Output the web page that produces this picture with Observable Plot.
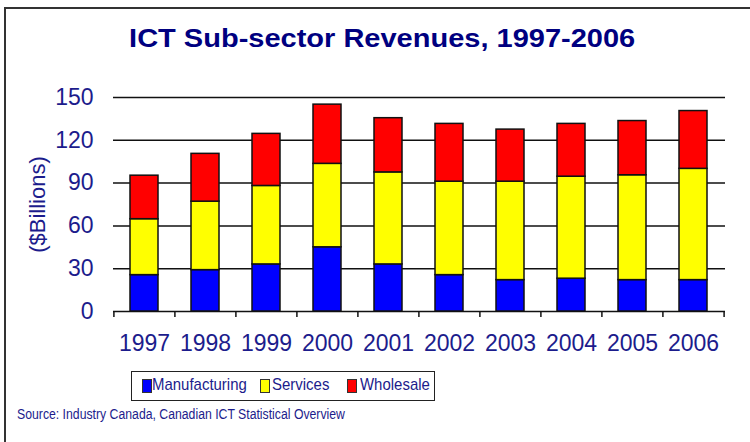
<!DOCTYPE html>
<html>
<head>
<meta charset="utf-8">
<script src="https://cdn.jsdelivr.net/npm/d3@7"></script>
<script src="https://cdn.jsdelivr.net/npm/@observablehq/plot@0.6"></script>
<style>
  html, body { margin: 0; padding: 0; background: #fff; }
  #wrap { position: relative; width: 750px; height: 442px; overflow: hidden; font-family: "Liberation Sans", Arial, sans-serif; }
  #frame { position: absolute; left: 4px; top: 7px; width: 760px; height: 450px; border-top: 2px solid #333; border-left: 2px solid #333; box-sizing: border-box; }
  #title { position: absolute; left: 7px; width: 750px; top: 26px; text-align: center; font-weight: bold; font-size: 25px; line-height: 25px; color: #000080; }
  #title span { display: inline-block; transform: scaleX(1.16); transform-origin: center; }
  #chart { position: absolute; left: 0; top: 0; }
  #legend { position: absolute; left: 131px; top: 371px; width: 304px; height: 30px; border: 1.5px solid #222; box-sizing: border-box; font-size: 17px; color: #1c1c8c; }
  #legend .sw { position: absolute; top: 7px; width: 8px; height: 12px; border: 1px solid #333; }
  #legend .lab { position: absolute; top: 3px; line-height: 20px; white-space: nowrap; transform: scaleX(0.88); transform-origin: left center; }
  #source { position: absolute; left: 17px; top: 406px; font-size: 14px; color: #1c1c8c; white-space: nowrap; transform: scaleX(0.875); transform-origin: left center; }
</style>
</head>
<body>
<div id="wrap">
  <div id="frame"></div>
  <div id="title"><span>ICT Sub-sector Revenues, 1997-2006</span></div>
  <div id="chart"></div>
  <div id="legend"></div>
  <div id="source">Source: Industry Canada, Canadian ICT Statistical Overview</div>
</div>
<script>
const years = ["1997","1998","1999","2000","2001","2002","2003","2004","2005","2006"];
const series = ["Manufacturing", "Services", "Wholesale"];
const colors = ["#0000ff", "#ffff00", "#ff0000"];
const manufacturing = [25.5, 29, 33, 45, 33, 25.5, 22, 23, 22, 22];
const services      = [39.2, 48, 55, 58.5, 64.5, 65.5, 69, 71.5, 73.5, 78];
const wholesale     = [30.5, 33.5, 36.5, 41.5, 38, 40.5, 36.5, 37, 38, 40.5];
const yTicks = [0, 30, 60, 90, 120, 150];
const yLabel = "($Billions)";

const values = [manufacturing, services, wholesale];
const data = [];
years.forEach((yr, i) => {
  series.forEach((s, j) => data.push({year: yr, series: s, value: values[j][i]}));
});

const W = 750, H = 442, ML = 113, MR = 25, MT = 97, MB = 131;
const step = (W - ML - MR) / years.length;
const textColor = "#1c1c8c";

const chart = Plot.plot({
  width: W, height: H,
  marginLeft: ML, marginRight: MR, marginTop: MT, marginBottom: MB,
  style: {fontFamily: "Liberation Sans, Arial, sans-serif", fontSize: "23px", color: textColor, background: "transparent", overflow: "visible"},
  x: {domain: years, paddingInner: 0.54, paddingOuter: 0.27, label: null, tickSize: 0, tickPadding: 23},
  y: {domain: [0, 150], ticks: yTicks, label: null, tickSize: 0, tickPadding: 20},
  color: {domain: series, range: colors},
  marks: [
    Plot.ruleY(yTicks, {stroke: "#111", strokeWidth: 1.5}),
    Plot.barY(data, {x: "year", y: "value", fill: "series", stroke: "#111", strokeWidth: 1.5}),
    Plot.ruleX(years, {x: d => d, y1: 0, y2: 0, insetBottom: -6, dx: -step / 2, stroke: "#111", strokeWidth: 1.5}),
    Plot.ruleX(years.slice(-1), {x: d => d, y1: 0, y2: 0, insetBottom: -6, dx: step / 2, stroke: "#111", strokeWidth: 1.5}),
    Plot.text([yLabel], {frameAnchor: "left", textAnchor: "middle", rotate: -90, dx: -76, text: d => d, fill: textColor, fontSize: 22})
  ]
});
document.getElementById("chart").appendChild(chart);

// legend layout (relative to the legend box)
const swLeft = [10, 128, 215];
const labLeft = [20, 140, 228];
const leg = document.getElementById("legend");
series.forEach((s, j) => {
  const sw = document.createElement("div");
  sw.className = "sw";
  sw.style.background = colors[j];
  sw.style.left = swLeft[j] + "px";
  const t = document.createElement("div");
  t.className = "lab";
  t.textContent = s;
  t.style.left = labLeft[j] + "px";
  leg.appendChild(sw); leg.appendChild(t);
});
</script>
</body>
</html>
